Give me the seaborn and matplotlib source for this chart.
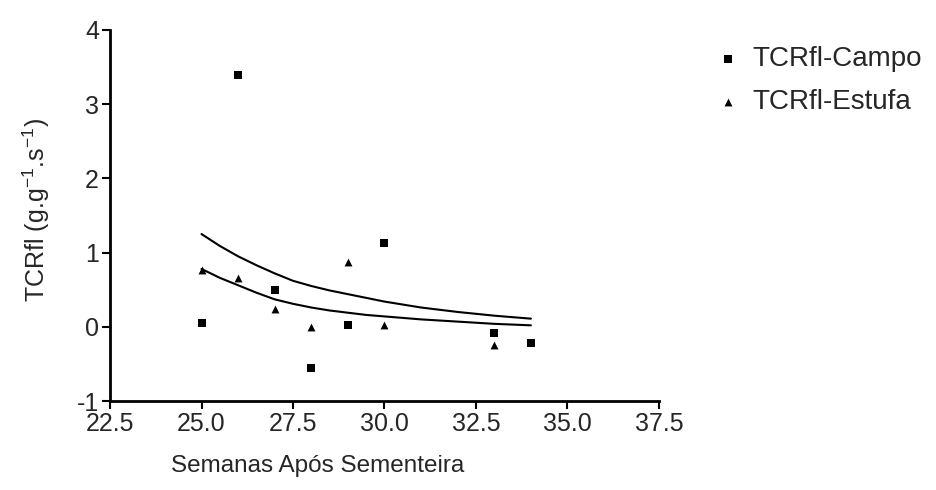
import numpy as np
import pandas as pd
import seaborn as sns
import matplotlib.pyplot as plt

# dados
semanas_campo = [25, 26, 27, 28, 29, 30, 33, 34]
tcrfl_campo = [0.05, 3.39, 0.49, -0.55, 0.02, 1.13, -0.08, -0.22]

semanas_estufa = [25, 26, 27, 28, 29, 30, 33]
tcrfl_estufa = [0.77, 0.66, 0.24, 0.0, 0.88, 0.02, -0.24]

# curvas ajustadas (valores lidos)
semanas_curva = [25, 25.5, 26, 26.5, 27, 27.5, 28, 28.5, 29, 29.5, 30, 31, 32, 33, 34]
curva_superior = [1.25, 1.09, 0.95, 0.83, 0.72, 0.62, 0.55, 0.49, 0.44, 0.39, 0.34, 0.26, 0.20, 0.15, 0.11]
curva_inferior = [0.78, 0.66, 0.56, 0.46, 0.37, 0.31, 0.26, 0.22, 0.19, 0.16, 0.14, 0.10, 0.07, 0.04, 0.02]

x_ticks = [22.5, 25.0, 27.5, 30.0, 32.5, 35.0, 37.5]
y_ticks = [-1, 0, 1, 2, 3, 4]

df_campo = pd.DataFrame({'semana': semanas_campo, 'valor': tcrfl_campo})
df_estufa = pd.DataFrame({'semana': semanas_estufa, 'valor': tcrfl_estufa})
df_curva = pd.DataFrame({'semana': semanas_curva, 'sup': curva_superior, 'inf': curva_inferior})

sns.set_style('ticks')
plt.rcParams['font.family'] = ['Liberation Sans', 'DejaVu Sans']
plt.rcParams['mathtext.fontset'] = 'custom'
plt.rcParams['mathtext.rm'] = 'Liberation Sans'
plt.rcParams['mathtext.it'] = 'Liberation Sans'
plt.rcParams['axes.unicode_minus'] = False

fig = plt.figure(figsize=(9.37, 4.9), dpi=100)
ax = fig.add_axes([0.1174, 0.1816, 0.5859, 0.7572])

sns.lineplot(data=df_curva, x='semana', y='sup', color='black', lw=1.5, ax=ax)
sns.lineplot(data=df_curva, x='semana', y='inf', color='black', lw=1.5, ax=ax)
sns.scatterplot(data=df_campo, x='semana', y='valor', marker='s', s=40, color='black',
                edgecolor='black', linewidth=0, label='TCRfl-Campo', ax=ax)
sns.scatterplot(data=df_estufa, x='semana', y='valor', marker='^', s=32, color='black',
                edgecolor='black', linewidth=0, label='TCRfl-Estufa', ax=ax)

ax.set_xlim(22.5, 37.5)
ax.set_ylim(-1, 4)
ax.set_xticks(x_ticks)
ax.set_xticklabels([f'{t:.1f}' for t in x_ticks])
ax.set_yticks(y_ticks)
ax.tick_params(labelsize=18, width=1.5, length=6, color='black', pad=2)
for s in ['left', 'bottom']:
    ax.spines[s].set_linewidth(2)
    ax.spines[s].set_color('black')
sns.despine(ax=ax)

ax.set_xlabel('Semanas Após Sementeira', fontsize=17.5)
ax.xaxis.set_label_coords(0.379, -0.145)
ax.set_ylabel(r'TCRfl (g.g$^{-1}$.s$^{-1}$)', fontsize=18)
ax.yaxis.set_label_coords(-0.105, 0.515)

leg = ax.legend(loc='upper left', bbox_to_anchor=(0.750, 0.928), bbox_transform=fig.transFigure,
                frameon=False, fontsize=20, handlelength=1.0, handletextpad=0.4,
                labelspacing=0.6, borderaxespad=0)

fig.savefig('out.png', dpi=100)
